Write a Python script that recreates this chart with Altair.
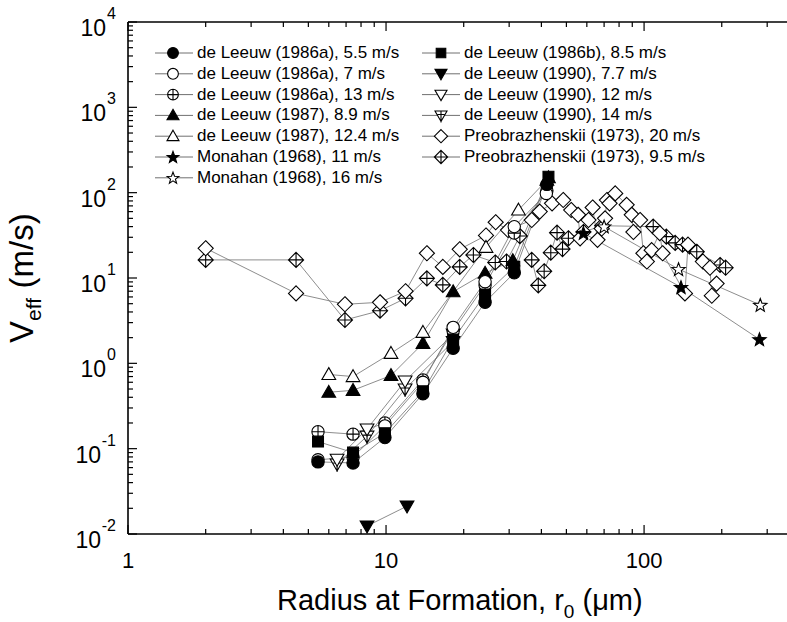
import math
import altair as alt
import pandas as pd

# ---------------- data ----------------
series_names = [
    "de Leeuw (1986a), 5.5 m/s",
    "de Leeuw (1986a), 7 m/s",
    "de Leeuw (1986a), 13 m/s",
    "de Leeuw (1987), 8.9 m/s",
    "de Leeuw (1987), 12.4 m/s",
    "Monahan (1968), 11 m/s",
    "Monahan (1968), 16 m/s",
    "de Leeuw (1986b), 8.5 m/s",
    "de Leeuw (1990), 7.7 m/s",
    "de Leeuw (1990), 12 m/s",
    "de Leeuw (1990), 14 m/s",
    "Preobrazhenskii (1973), 20 m/s",
    "Preobrazhenskii (1973), 9.5 m/s",
]

r_86a_55 = [5.45, 7.45, 9.9, 13.9, 18.2, 24.2, 31.4, 42.0]
v_86a_55 = [0.070, 0.068, 0.135, 0.44, 1.5, 5.2, 11.5, 125]
r_86a_7 = [5.45, 7.45, 9.9, 13.9, 18.2, 24.2, 31.4, 41.8]
v_86a_7 = [0.074, 0.08, 0.185, 0.6, 2.64, 9.06, 40, 98]
r_86a_13 = [5.45, 7.45, 9.9, 13.9, 18.2, 24.2, 31.4, 42.0]
v_86a_13 = [0.158, 0.148, 0.2, 0.64, 2.4, 8.3, 33.6, 105]
r_87_89 = [6.0, 7.45, 10.45, 13.9, 18.2, 24.2, 31.0, 42.6]
v_87_89 = [0.458, 0.483, 0.72, 1.71, 6.9, 11.4, 16, 150]
r_87_124 = [6.0, 7.45, 10.45, 13.9, 24.4, 32.6, 42.0]
v_87_124 = [0.74, 0.70, 1.31, 2.31, 22.9, 62.6, 140]
r_mon_11 = [58.2, 139, 280]
v_mon_11 = [33.6, 7.8, 1.91]
r_mon_16 = [70, 136, 282]
v_mon_16 = [40, 12.7, 4.83]
r_86b_85 = [5.45, 7.45, 9.9, 13.9, 18.2, 24.2, 31.4, 42.6]
v_86b_85 = [0.121, 0.09, 0.152, 0.47, 1.9, 6.4, 13.5, 154]
r_90_77 = [8.44, 12.06]
v_90_77 = [0.0124, 0.0212]
r_90_12 = [6.46, 8.44, 11.85, 18.2]
v_90_12 = [0.075, 0.17, 0.62, 2.2]
r_90_14 = [6.46, 8.44, 11.85, 18.2]
v_90_14 = [0.066, 0.14, 0.5, 1.8]
r_pre_20 = [2.0, 4.48, 6.93, 9.48, 11.9, 14.4, 16.6, 19.3, 24.4, 26.6, 29.7, 36.7,
            39.4, 44.0, 48.6, 52.2, 55.5, 56.5, 60.9, 63.2, 66.0, 68.5, 70.6, 71.8,
            73.5, 77.3, 85.6, 89.6, 90.9, 96.5, 99.4, 102.5, 107, 115, 118, 144,
            148, 169, 180, 183, 191]
v_pre_20 = [22.3, 6.6, 4.92, 5.19, 7.0, 19.5, 13.5, 21.7, 31.5, 45, 36.5, 47.8,
            60, 75, 82, 62.6, 55, 29.2, 47.8, 67, 28, 38, 50, 82,
            75, 98, 72, 55, 34.6, 47.8, 19.5, 15.6, 21.2, 33.6, 19.5, 6.6,
            24.6, 15.6, 13.2, 6.2, 8.6]
r_pre_95 = [2.0, 4.48, 6.93, 9.48, 11.9, 14.4, 16.6, 19.3, 21.8, 26.5, 29.3, 33.0,
            36.7, 38.9, 41.0, 43.5, 46.0, 48.3, 50.9, 58.2, 68.8, 108.5, 122, 132,
            141, 150, 160, 197, 207]
v_pre_95 = [16.3, 16.3, 3.22, 4.14, 5.78, 9.9, 8.3, 13.5, 18.6, 15.2, 15.6, 31,
            16.3, 8.2, 12, 19.8, 34, 21.8, 29.2, 34.6, 41, 40, 30.5, 25.8,
            24.6, 23.4, 20.3, 14.2, 13.2]

series_r = [r_86a_55, r_86a_7, r_86a_13, r_87_89, r_87_124, r_mon_11, r_mon_16,
            r_86b_85, r_90_77, r_90_12, r_90_14, r_pre_20, r_pre_95]
series_v = [v_86a_55, v_86a_7, v_86a_13, v_87_89, v_87_124, v_mon_11, v_mon_16,
            v_86b_85, v_90_77, v_90_12, v_90_14, v_pre_20, v_pre_95]
series_filled = [True, False, False, True, False, True, False,
                 True, True, False, False, False, False]
# drawing order (later = on top)
series_draw = [12, 11, 5, 6, 10, 9, 3, 4, 2, 1, 7, 8, 0]

x_label_text = ["1", "10", "100"]
y_exps = [-2, -1, 0, 1, 2, 3, 4]

# ---------------- marker shapes (unit box -1..1) ----------------
def star_path(ro=1.0, ri=0.42):
    pts = []
    for k in range(10):
        a = -math.pi / 2 + k * math.pi / 5
        rr = ro if k % 2 == 0 else ri
        pts.append(f"{rr * math.cos(a):.3f},{rr * math.sin(a) + 0.08:.3f}")
    return "M" + "L".join(pts) + "Z"

C = "M-0.88,0A0.88,0.88,0,1,1,0.88,0A0.88,0.88,0,1,1,-0.88,0Z"
CPLUS = C + "M-0.88,0L0.88,0M0,-0.88L0,0.88"
SQ = "M-0.78,-0.78L0.78,-0.78L0.78,0.78L-0.78,0.78Z"
TUP = "M0,-0.98L0.98,0.72L-0.98,0.72Z"
TDN = "M0,0.98L0.98,-0.72L-0.98,-0.72Z"
TDNPLUS = TDN + "M-0.55,-0.15L0.55,-0.15M0,-0.72L0,1.15"
DIA = "M0,-1.08L1.08,0L0,1.08L-1.08,0Z"
DIAPLUS = DIA + "M-1.08,0L1.08,0M0,-1.08L0,1.08"
STAR = star_path()

series_shapes = [C, C, CPLUS, TUP, TUP, STAR, STAR, SQ, TDN, TDN, TDNPLUS, DIA, DIAPLUS]
series_fill = ["black" if f else "white" for f in series_filled]

rows = []
for i, name in enumerate(series_names):
    for r, v in zip(series_r[i], series_v[i]):
        rows.append({"series": name, "r": r, "v": v, "k": series_draw.index(i)})
df = pd.DataFrame(rows)

# ---------------- layout ----------------
W, H = 659, 512
XMIN, XMAX = 1.0, 358.0
YMIN, YMAX = 0.01, 10000.0
FONT = "Liberation Sans"

xs = alt.Scale(type="log", domain=[XMIN, XMAX], nice=False)
ys = alt.Scale(type="log", domain=[YMIN, YMAX], nice=False)
shape_scale = alt.Scale(domain=series_names, range=series_shapes)
fill_scale = alt.Scale(domain=series_names, range=series_fill)


def px_to_x(px):
    lo, hi = math.log10(XMIN), math.log10(XMAX)
    return 10 ** (lo + px / W * (hi - lo))


def px_to_y(py):
    lo, hi = math.log10(YMIN), math.log10(YMAX)
    return 10 ** (hi - py / H * (hi - lo))


X = lambda f: alt.X(f, type="quantitative", scale=xs, axis=None)
Y = lambda f: alt.Y(f, type="quantitative", scale=ys, axis=None)

base = alt.Chart(df)
lines = base.mark_line(color="#707070", strokeWidth=0.8).encode(
    x=X("r"), y=Y("v"), detail="series:N"
)
points = base.mark_point(
    filled=True, stroke="black", strokeWidth=1.1, size=196, opacity=1
).encode(
    x=X("r"), y=Y("v"),
    shape=alt.Shape("series:N", scale=shape_scale, legend=None),
    fill=alt.Fill("series:N", scale=fill_scale, legend=None),
    order=alt.Order("k:Q"),
)

# ---------------- frame and ticks ----------------
x_major = [1, 10, 100]
x_minor = [m * d for d in (1, 10, 100) for m in range(2, 10) if m * d <= XMAX]
y_major = [10.0 ** e for e in y_exps]
y_minor = [m * d for d in (0.01, 0.1, 1, 10, 100, 1000) for m in range(2, 10)]

frame_df = pd.DataFrame({"a": [0]})
frame = alt.Chart(frame_df)
bottom_line = frame.mark_rule(color="black", strokeWidth=1.6).encode(
    x=alt.value(0), x2=alt.value(W), y=alt.value(H))
top_line = frame.mark_rule(color="black", strokeWidth=1.6).encode(
    x=alt.value(0), x2=alt.value(W), y=alt.value(0))
left_line = frame.mark_rule(color="black", strokeWidth=1.6).encode(
    x=alt.value(0), y=alt.value(0), y2=alt.value(H))


def xticks(vals, y0, y1):
    return alt.Chart(pd.DataFrame({"t": vals})).mark_rule(color="black", strokeWidth=1.2).encode(
        x=X("t"), y=alt.value(y0), y2=alt.value(y1))


def yticks(vals, x1):
    return alt.Chart(pd.DataFrame({"t": vals})).mark_rule(color="black", strokeWidth=1.2).encode(
        y=Y("t"), x=alt.value(0), x2=alt.value(x1))


tick_layers = [
    xticks(x_major, H, H - 9), xticks(x_minor, H, H - 5),
    xticks(x_major, 0, 9), xticks(x_minor, 0, 5),
    yticks(y_major, 9), yticks(y_minor, 5),
]

# ---------------- tick labels ----------------
xlab = alt.Chart(pd.DataFrame({"t": x_major, "s": x_label_text})).mark_text(
    font=FONT, fontSize=22, baseline="alphabetic", align="center", color="black"
).encode(x=X("t"), y=alt.value(H + 34), text="s:N")

ylab_df = pd.DataFrame({"t": y_major,
                        "e": [str(e) for e in y_exps],
                        "neg": [e < 0 for e in y_exps]})
ylab_exp = alt.Chart(ylab_df).mark_text(
    font=FONT, fontSize=16, align="right", baseline="alphabetic", dy=-3, color="black"
).encode(y=Y("t"), x=alt.value(-12), text="e:N")
ylab_ten_pos = alt.Chart(ylab_df).transform_filter("!datum.neg").mark_text(
    font=FONT, fontSize=23, align="right", baseline="alphabetic", dy=14, color="black"
).encode(y=Y("t"), x=alt.value(-22), text=alt.value("10"))
ylab_ten_neg = alt.Chart(ylab_df).transform_filter("datum.neg").mark_text(
    font=FONT, fontSize=23, align="right", baseline="alphabetic", dy=14, color="black"
).encode(y=Y("t"), x=alt.value(-27), text=alt.value("10"))

# ---------------- axis titles (pieces for sub-scripts) ----------------
ttl = alt.Chart(frame_df)
XT_FS, XT_SUB = 29, 19
xt_x0 = 149
xt_y = H + 76
w_main = 9.892 * XT_FS
xt1 = ttl.mark_text(font=FONT, fontSize=XT_FS, align="left", baseline="alphabetic").encode(
    x=alt.value(xt_x0), y=alt.value(xt_y), text=alt.value("Radius at Formation, r"))
xt2 = ttl.mark_text(font=FONT, fontSize=XT_SUB, align="left", baseline="alphabetic").encode(
    x=alt.value(xt_x0 + w_main), y=alt.value(xt_y + 8), text=alt.value("0"))
xt3 = ttl.mark_text(font=FONT, fontSize=XT_FS, align="left", baseline="alphabetic").encode(
    x=alt.value(xt_x0 + w_main + 0.556 * XT_SUB + 0.278 * XT_FS), y=alt.value(xt_y),
    text=alt.value("(\u03bcm)"))

YT_FS, YT_SUB = 33, 21
yt_x = -95
yt_y0 = 343 - 22
w_v = 0.667 * YT_FS
w_eff = 1.112 * YT_SUB
yt1 = ttl.mark_text(font=FONT, fontSize=YT_FS, align="left", baseline="alphabetic", angle=270).encode(
    x=alt.value(yt_x), y=alt.value(yt_y0), text=alt.value("V"))
yt2 = ttl.mark_text(font=FONT, fontSize=YT_SUB, align="left", baseline="alphabetic", angle=270).encode(
    x=alt.value(yt_x + 8), y=alt.value(yt_y0 - w_v), text=alt.value("eff"))
yt3 = ttl.mark_text(font=FONT, fontSize=YT_FS, align="left", baseline="alphabetic", angle=270).encode(
    x=alt.value(yt_x), y=alt.value(yt_y0 - w_v - w_eff - 0.278 * YT_FS), text=alt.value("(m/s)"))

# ---------------- legend ----------------
left_col = series_names[:7]
right_col = series_names[7:]
leg_rows = []
for col, names, stub0, mark_x, text_x in (
        (0, left_col, 27, 45, 69), (1, right_col, 294, 313, 336)):
    for j, name in enumerate(names):
        py = 31 + j * 20.8
        leg_rows.append({"series": name, "ly": px_to_y(py),
                         "x1": px_to_x(stub0), "x2": px_to_x(stub0 + 38),
                         "mx": px_to_x(mark_x), "tx": px_to_x(text_x)})
leg_df = pd.DataFrame(leg_rows)
leg = alt.Chart(leg_df)
leg_stub = leg.mark_rule(color="#707070", strokeWidth=1).encode(
    x=X("x1"), x2="x2:Q", y=Y("ly"))
leg_pts = leg.mark_point(filled=True, stroke="black", strokeWidth=1.1, size=150, opacity=1).encode(
    x=X("mx"), y=Y("ly"),
    shape=alt.Shape("series:N", scale=shape_scale, legend=None),
    fill=alt.Fill("series:N", scale=fill_scale, legend=None))
leg_txt = leg.mark_text(font=FONT, fontSize=17, align="left", baseline="middle", color="black").encode(
    x=X("tx"), y=Y("ly"), text="series:N")

chart = alt.layer(
    lines, points, bottom_line, top_line, left_line, *tick_layers,
    xlab, ylab_exp, ylab_ten_pos, ylab_ten_neg,
    xt1, xt2, xt3, yt1, yt2, yt3,
    leg_stub, leg_pts, leg_txt,
).properties(
    width=W, height=H,
    autosize=alt.AutoSizeParams(type="none"),
    padding={"left": 128, "top": 22, "right": 0, "bottom": 88},
    background="white",
).configure_view(stroke=None)

chart.save("out.html", embed_options={"renderer": "svg", "actions": False})
